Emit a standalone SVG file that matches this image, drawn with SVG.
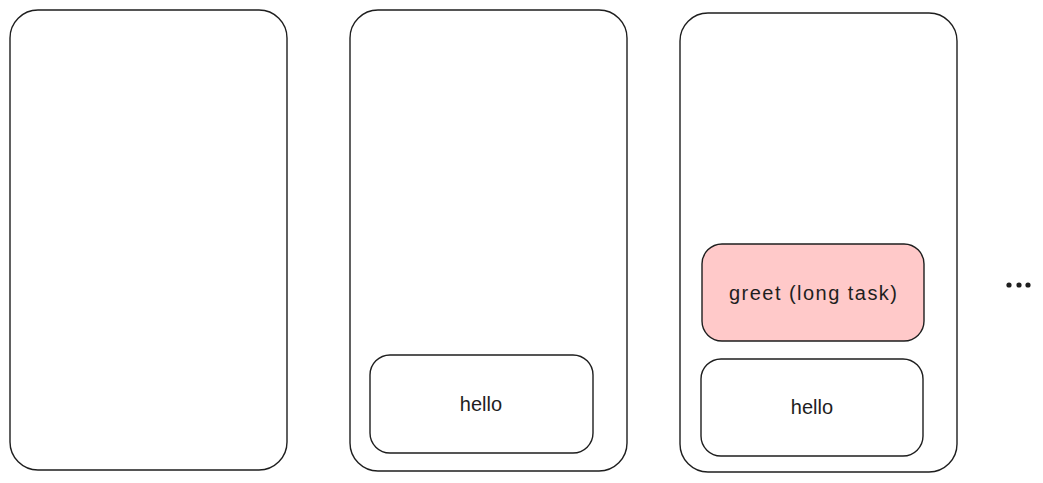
<svg xmlns="http://www.w3.org/2000/svg" width="1043" height="483" viewBox="0 0 1043 483">
<style>
.frame{fill:#ffffff;stroke:#1e1e1e;stroke-width:1.4}
.task{fill:#ffffff;stroke:#1e1e1e;stroke-width:1.4}
.long{fill:#ffc9c9}
.lbl{font-family:"Liberation Sans",Arial,sans-serif;font-size:20px;fill:#1e1e1e;text-anchor:middle;dominant-baseline:central}
</style>
<rect width="1043" height="483" fill="#ffffff"/>
<g id="stack1"><rect class="frame" x="10" y="10" width="277" height="460" rx="28"/></g>
<g id="stack2"><rect class="frame" x="350" y="10" width="277" height="461" rx="28"/></g>
<g id="stack3"><rect class="frame" x="680" y="13" width="277" height="459" rx="28"/></g>
<g id="hello1"><rect class="task" x="370" y="355" width="223" height="98" rx="20"/><text class="lbl" x="481" y="404">hello</text></g>
<g id="greet"><rect class="task long" x="702" y="244" width="222" height="97" rx="20"/><text class="lbl" x="813" y="293" textLength="168" lengthAdjust="spacing">greet (long task)</text></g>
<g id="hello2"><rect class="task" x="701" y="359" width="222" height="97" rx="20"/><text class="lbl" x="812" y="407">hello</text></g>
<g id="more"><circle cx="1009" cy="285" r="2.6" fill="#1e1e1e"/><circle cx="1019" cy="285" r="2.6" fill="#1e1e1e"/><circle cx="1028" cy="285" r="2.6" fill="#1e1e1e"/></g>
<g id="connectors"></g>
</svg>
